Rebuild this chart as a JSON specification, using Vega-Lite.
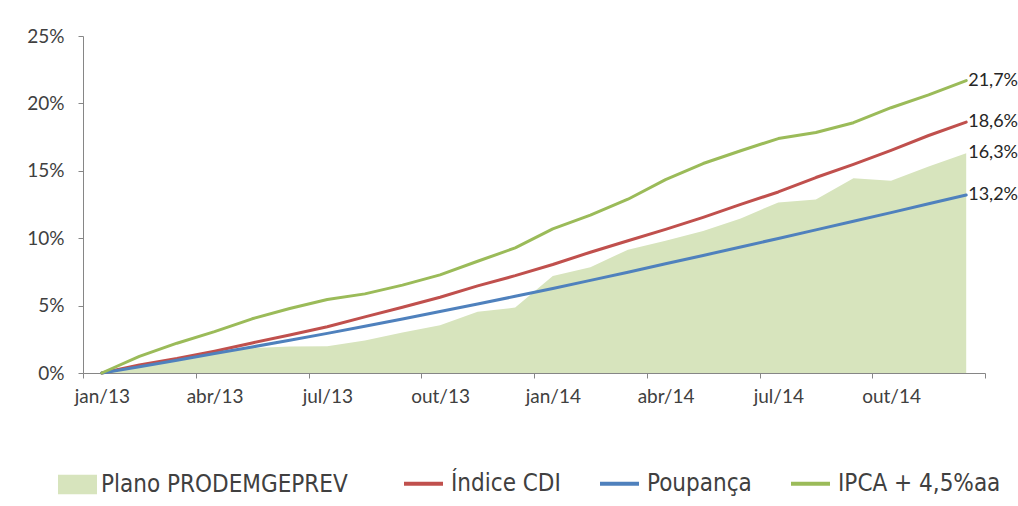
{
  "$schema": "https://vega.github.io/schema/vega-lite/v6.json",
  "width": 902,
  "height": 337,
  "autosize": {"type": "none"},
  "padding": {"left": 83, "top": 36, "right": 33, "bottom": 133},
  "background": "white",
  "config": {
    "locale": {"number": {"decimal": ",", "thousands": ".", "grouping": [3], "currency": ["R$ ", ""]}},
    "view": {"stroke": null},
    "axis": {"grid": false, "domainColor": "#868686", "tickColor": "#868686", "tickSize": 5, "labelFont": "Lato", "labelFontSize": 19, "labelColor": "#404040"},
    "legend": {"padding": 0, "labelFont": "DejaVu Sans Condensed", "labelFontSize": 24, "labelColor": "#404040", "labelLimit": 600}
  },
  "data": {"values": [
    {"mes": "jan/13", "n": 0, "serie": "Plano PRODEMGEPREV", "valor": 0},
    {"mes": "fev/13", "n": 1, "serie": "Plano PRODEMGEPREV", "valor": 0.0045},
    {"mes": "mar/13", "n": 2, "serie": "Plano PRODEMGEPREV", "valor": 0.0095},
    {"mes": "abr/13", "n": 3, "serie": "Plano PRODEMGEPREV", "valor": 0.0142},
    {"mes": "mai/13", "n": 4, "serie": "Plano PRODEMGEPREV", "valor": 0.0185},
    {"mes": "jun/13", "n": 5, "serie": "Plano PRODEMGEPREV", "valor": 0.0197},
    {"mes": "jul/13", "n": 6, "serie": "Plano PRODEMGEPREV", "valor": 0.0198},
    {"mes": "ago/13", "n": 7, "serie": "Plano PRODEMGEPREV", "valor": 0.0242},
    {"mes": "set/13", "n": 8, "serie": "Plano PRODEMGEPREV", "valor": 0.0300},
    {"mes": "out/13", "n": 9, "serie": "Plano PRODEMGEPREV", "valor": 0.0355},
    {"mes": "nov/13", "n": 10, "serie": "Plano PRODEMGEPREV", "valor": 0.0455},
    {"mes": "dez/13", "n": 11, "serie": "Plano PRODEMGEPREV", "valor": 0.0485},
    {"mes": "jan/14", "n": 12, "serie": "Plano PRODEMGEPREV", "valor": 0.0720},
    {"mes": "fev/14", "n": 13, "serie": "Plano PRODEMGEPREV", "valor": 0.0785},
    {"mes": "mar/14", "n": 14, "serie": "Plano PRODEMGEPREV", "valor": 0.0915},
    {"mes": "abr/14", "n": 15, "serie": "Plano PRODEMGEPREV", "valor": 0.0982},
    {"mes": "mai/14", "n": 16, "serie": "Plano PRODEMGEPREV", "valor": 0.1053},
    {"mes": "jun/14", "n": 17, "serie": "Plano PRODEMGEPREV", "valor": 0.1147},
    {"mes": "jul/14", "n": 18, "serie": "Plano PRODEMGEPREV", "valor": 0.1265},
    {"mes": "ago/14", "n": 19, "serie": "Plano PRODEMGEPREV", "valor": 0.1288},
    {"mes": "set/14", "n": 20, "serie": "Plano PRODEMGEPREV", "valor": 0.1444},
    {"mes": "out/14", "n": 21, "serie": "Plano PRODEMGEPREV", "valor": 0.1427},
    {"mes": "nov/14", "n": 22, "serie": "Plano PRODEMGEPREV", "valor": 0.1531},
    {"mes": "dez/14", "n": 23, "serie": "Plano PRODEMGEPREV", "valor": 0.1630},
    {"mes": "jan/13", "n": 0, "serie": "Índice CDI", "valor": 0},
    {"mes": "fev/13", "n": 1, "serie": "Índice CDI", "valor": 0.0059},
    {"mes": "mar/13", "n": 2, "serie": "Índice CDI", "valor": 0.0107},
    {"mes": "abr/13", "n": 3, "serie": "Índice CDI", "valor": 0.0162},
    {"mes": "mai/13", "n": 4, "serie": "Índice CDI", "valor": 0.0223},
    {"mes": "jun/13", "n": 5, "serie": "Índice CDI", "valor": 0.0282},
    {"mes": "jul/13", "n": 6, "serie": "Índice CDI", "valor": 0.0343},
    {"mes": "ago/13", "n": 7, "serie": "Índice CDI", "valor": 0.0416},
    {"mes": "set/13", "n": 8, "serie": "Índice CDI", "valor": 0.0488},
    {"mes": "out/13", "n": 9, "serie": "Índice CDI", "valor": 0.0562},
    {"mes": "nov/13", "n": 10, "serie": "Índice CDI", "valor": 0.0646},
    {"mes": "dez/13", "n": 11, "serie": "Índice CDI", "valor": 0.0722},
    {"mes": "jan/14", "n": 12, "serie": "Índice CDI", "valor": 0.0805},
    {"mes": "fev/14", "n": 13, "serie": "Índice CDI", "valor": 0.0896},
    {"mes": "mar/14", "n": 14, "serie": "Índice CDI", "valor": 0.0981},
    {"mes": "abr/14", "n": 15, "serie": "Índice CDI", "valor": 0.1065},
    {"mes": "mai/14", "n": 16, "serie": "Índice CDI", "valor": 0.1155},
    {"mes": "jun/14", "n": 17, "serie": "Índice CDI", "valor": 0.1251},
    {"mes": "jul/14", "n": 18, "serie": "Índice CDI", "valor": 0.1343},
    {"mes": "ago/14", "n": 19, "serie": "Índice CDI", "valor": 0.1450},
    {"mes": "set/14", "n": 20, "serie": "Índice CDI", "valor": 0.1548},
    {"mes": "out/14", "n": 21, "serie": "Índice CDI", "valor": 0.1652},
    {"mes": "nov/14", "n": 22, "serie": "Índice CDI", "valor": 0.1762},
    {"mes": "dez/14", "n": 23, "serie": "Índice CDI", "valor": 0.1861},
    {"mes": "jan/13", "n": 0, "serie": "Poupança", "valor": 0},
    {"mes": "fev/13", "n": 1, "serie": "Poupança", "valor": 0.0047},
    {"mes": "mar/13", "n": 2, "serie": "Poupança", "valor": 0.0095},
    {"mes": "abr/13", "n": 3, "serie": "Poupança", "valor": 0.0144},
    {"mes": "mai/13", "n": 4, "serie": "Poupança", "valor": 0.0193},
    {"mes": "jun/13", "n": 5, "serie": "Poupança", "valor": 0.0243},
    {"mes": "jul/13", "n": 6, "serie": "Poupança", "valor": 0.0294},
    {"mes": "ago/13", "n": 7, "serie": "Poupança", "valor": 0.0347},
    {"mes": "set/13", "n": 8, "serie": "Poupança", "valor": 0.0401},
    {"mes": "out/13", "n": 9, "serie": "Poupança", "valor": 0.0456},
    {"mes": "nov/13", "n": 10, "serie": "Poupança", "valor": 0.0512},
    {"mes": "dez/13", "n": 11, "serie": "Poupança", "valor": 0.0569},
    {"mes": "jan/14", "n": 12, "serie": "Poupança", "valor": 0.0627},
    {"mes": "fev/14", "n": 13, "serie": "Poupança", "valor": 0.0687},
    {"mes": "mar/14", "n": 14, "serie": "Poupança", "valor": 0.0748},
    {"mes": "abr/14", "n": 15, "serie": "Poupança", "valor": 0.0810},
    {"mes": "mai/14", "n": 16, "serie": "Poupança", "valor": 0.0872},
    {"mes": "jun/14", "n": 17, "serie": "Poupança", "valor": 0.0935},
    {"mes": "jul/14", "n": 18, "serie": "Poupança", "valor": 0.0998},
    {"mes": "ago/14", "n": 19, "serie": "Poupança", "valor": 0.1062},
    {"mes": "set/14", "n": 20, "serie": "Poupança", "valor": 0.1126},
    {"mes": "out/14", "n": 21, "serie": "Poupança", "valor": 0.1190},
    {"mes": "nov/14", "n": 22, "serie": "Poupança", "valor": 0.1255},
    {"mes": "dez/14", "n": 23, "serie": "Poupança", "valor": 0.1320},
    {"mes": "jan/13", "n": 0, "serie": "IPCA + 4,5%aa", "valor": 0},
    {"mes": "fev/13", "n": 1, "serie": "IPCA + 4,5%aa", "valor": 0.0123},
    {"mes": "mar/13", "n": 2, "serie": "IPCA + 4,5%aa", "valor": 0.0221},
    {"mes": "abr/13", "n": 3, "serie": "IPCA + 4,5%aa", "valor": 0.0307},
    {"mes": "mai/13", "n": 4, "serie": "IPCA + 4,5%aa", "valor": 0.0402},
    {"mes": "jun/13", "n": 5, "serie": "IPCA + 4,5%aa", "valor": 0.0479},
    {"mes": "jul/13", "n": 6, "serie": "IPCA + 4,5%aa", "valor": 0.0545},
    {"mes": "ago/13", "n": 7, "serie": "IPCA + 4,5%aa", "valor": 0.0587},
    {"mes": "set/13", "n": 8, "serie": "IPCA + 4,5%aa", "valor": 0.0652},
    {"mes": "out/13", "n": 9, "serie": "IPCA + 4,5%aa", "valor": 0.0728},
    {"mes": "nov/13", "n": 10, "serie": "IPCA + 4,5%aa", "valor": 0.0829},
    {"mes": "dez/13", "n": 11, "serie": "IPCA + 4,5%aa", "valor": 0.0928},
    {"mes": "jan/14", "n": 12, "serie": "IPCA + 4,5%aa", "valor": 0.1069},
    {"mes": "fev/14", "n": 13, "serie": "IPCA + 4,5%aa", "valor": 0.1171},
    {"mes": "mar/14", "n": 14, "serie": "IPCA + 4,5%aa", "valor": 0.1289},
    {"mes": "abr/14", "n": 15, "serie": "IPCA + 4,5%aa", "valor": 0.1435},
    {"mes": "mai/14", "n": 16, "serie": "IPCA + 4,5%aa", "valor": 0.1554},
    {"mes": "jun/14", "n": 17, "serie": "IPCA + 4,5%aa", "valor": 0.1649},
    {"mes": "jul/14", "n": 18, "serie": "IPCA + 4,5%aa", "valor": 0.1739},
    {"mes": "ago/14", "n": 19, "serie": "IPCA + 4,5%aa", "valor": 0.1784},
    {"mes": "set/14", "n": 20, "serie": "IPCA + 4,5%aa", "valor": 0.1857},
    {"mes": "out/14", "n": 21, "serie": "IPCA + 4,5%aa", "valor": 0.1968},
    {"mes": "nov/14", "n": 22, "serie": "IPCA + 4,5%aa", "valor": 0.2063},
    {"mes": "dez/14", "n": 23, "serie": "IPCA + 4,5%aa", "valor": 0.2169}
  ]},
  "encoding": {
    "x": {
      "field": "n", "type": "quantitative",
      "scale": {"domain": [-0.5, 23.5], "nice": false, "zero": false},
      "axis": {
        "title": null,
        "values": [-0.5, 2.5, 5.5, 8.5, 11.5, 14.5, 17.5, 20.5, 23.5],
        "labelOffset": 18.8,
        "labelFlush": false,
        "labelOverlap": false,
        "labelBound": false,
        "labelPadding": 9,
        "labelExpr": "datum.value > 23 ? '' : ['jan/13','abr/13','jul/13','out/13','jan/14','abr/14','jul/14','out/14'][round((datum.value + 0.5) / 3)]"
      }
    },
    "y": {
      "field": "valor", "type": "quantitative",
      "scale": {"domain": [0, 0.25], "nice": false},
      "axis": {"title": null, "values": [0, 0.05, 0.1, 0.15, 0.2, 0.25], "format": ".0%", "labelPadding": 14}
    }
  },
  "layer": [
    {
      "transform": [{"filter": "datum.serie === 'Plano PRODEMGEPREV'"}],
      "mark": {"type": "area", "opacity": 1},
      "encoding": {
        "fill": {
          "field": "serie", "type": "nominal",
          "scale": {"domain": ["Plano PRODEMGEPREV"], "range": ["#D7E4BD"]},
          "legend": {"title": null, "orient": "none", "legendX": -25, "legendY": 429, "direction": "horizontal", "symbolType": "M-1,-0.5H1V0.5H-1Z", "symbolSize": 1521, "symbolStrokeWidth": 0, "labelOffset": 4}
        }
      }
    },
    {
      "transform": [{"filter": "datum.serie !== 'Plano PRODEMGEPREV'"}],
      "mark": {"type": "line", "strokeWidth": 3, "strokeCap": "round", "strokeJoin": "round"},
      "encoding": {
        "stroke": {
          "field": "serie", "type": "nominal",
          "scale": {"domain": ["Índice CDI", "Poupança", "IPCA + 4,5%aa"], "range": ["#C0504D", "#4F81BD", "#9BBB59"]},
          "legend": {"title": null, "orient": "none", "legendX": 319, "legendY": 426, "direction": "horizontal", "symbolType": "stroke", "symbolSize": 1521, "symbolStrokeWidth": 4, "labelOffset": 6, "columnPadding": 31}
        }
      }
    },
    {
      "transform": [{"filter": "datum.n === 23"}],
      "mark": {"type": "text", "align": "left", "baseline": "middle", "dx": 2, "font": "Lato", "fontSize": 18, "color": "#262626"},
      "encoding": {
        "text": {"field": "valor", "type": "quantitative", "format": ".1%"}
      }
    }
  ]
}
